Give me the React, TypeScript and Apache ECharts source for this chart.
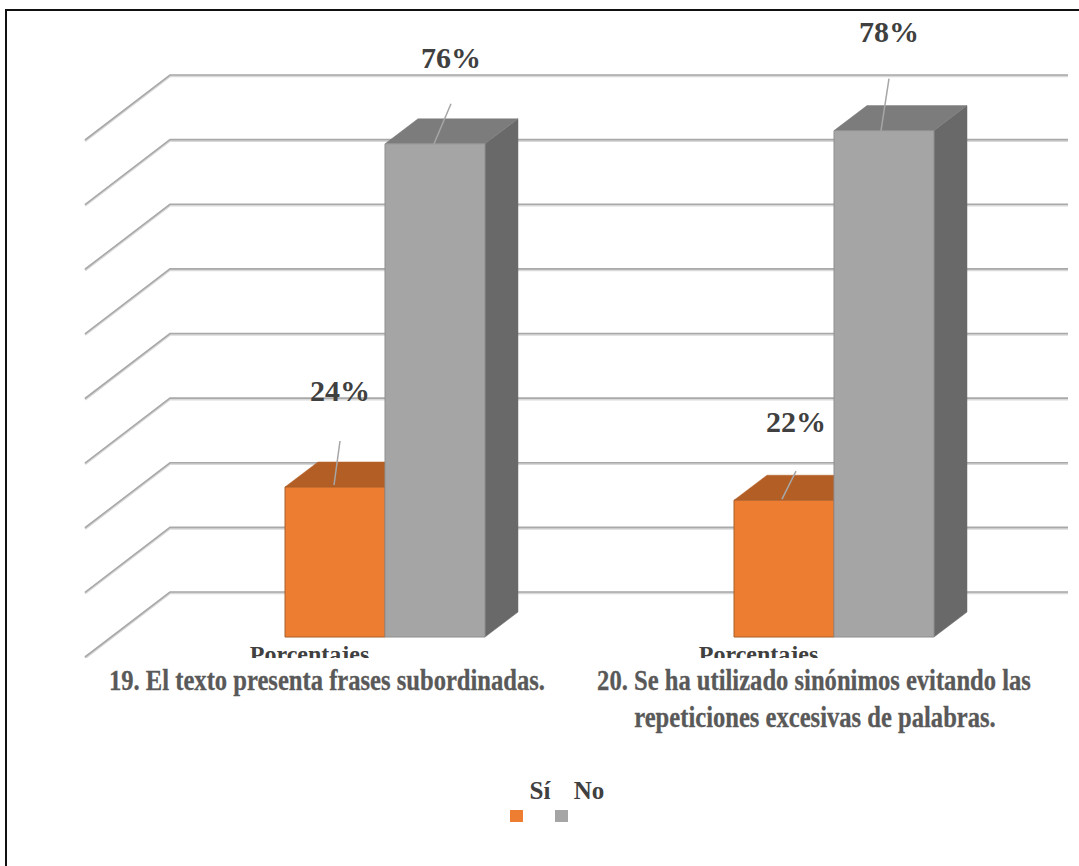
import React, { useEffect, useRef } from "react";
import * as echarts from "echarts";

const categories = ["Porcentajes", "Porcentajes"];
const siValues = [24, 22];
const noValues = [76, 78];
const siLabels = ["24%", "22%"];
const noLabels = ["76%", "78%"];
const gridValues = [0, 10, 20, 30, 40, 50, 60, 70, 80];
const questionOne = ["19. El texto presenta frases subordinadas."];
const questionTwo = ["20. Se ha utilizado sinónimos evitando las", "repeticiones excesivas de palabras."];
const legendNames = ["Sí", "No"];

const SERIF = '"Liberation Serif", "Times New Roman", serif';
const TEXT = "#404040";
const BASE_VALUE = 1.27;
const DX = 33;
const DY = 25;
const BAR_W = 100;
const BAND_SHIFT = 75.5;

const siLabelOffsets = [[5, -97], [12, -79]];
const siLeaderOffsets = [[-1, -2, 5, -46], [-2, -1, 12, -29]];
const noLabelOffsets = [[16, -86], [5, -99]];
const noLeaderOffsets = [[-1, 0, 16, -40], [-3, 0, 5, -52]];

function barRenderer(
  side: number,
  face: string,
  top: string,
  right: string,
  edge: string,
  labels: string[],
  labelOffsets: number[][],
  leaderOffsets: number[][]
) {
  return (params: any, api: any) => {
    const i = api.value(0);
    const p = api.coord([i, api.value(1)]);
    const b = api.coord([i, BASE_VALUE]);
    const center = p[0] + BAND_SHIFT;
    const x0 = side < 0 ? center - BAR_W : center;
    const x1 = x0 + BAR_W;
    const yT = p[1];
    const yB = b[1];
    const mid = (x0 + x1) / 2;
    const lab = labelOffsets[i];
    const lead = leaderOffsets[i];
    return {
      type: "group",
      children: [
        {
          type: "polygon",
          shape: { points: [[x1, yT], [x1 + DX, yT - DY], [x1 + DX, yB - DY], [x1, yB]] },
          style: { fill: right, stroke: right, lineWidth: 0.5 },
        },
        {
          type: "polygon",
          shape: { points: [[x0, yT], [x0 + DX, yT - DY], [x1 + DX, yT - DY], [x1, yT]] },
          style: { fill: top, stroke: top, lineWidth: 0.5 },
        },
        {
          type: "rect",
          shape: { x: x0, y: yT, width: BAR_W, height: yB - yT },
          style: { fill: face, stroke: edge, lineWidth: 1 },
        },
        {
          type: "line",
          shape: { x1: mid + lead[0], y1: yT + lead[1], x2: mid + lead[2], y2: yT + lead[3] },
          style: { stroke: "#a6a6a6", lineWidth: 1.5 },
        },
        {
          type: "text",
          x: mid + lab[0],
          y: yT + lab[1],
          style: {
            text: labels[i],
            fill: TEXT,
            font: `bold 30px ${SERIF}`,
            textAlign: "center",
            textVerticalAlign: "middle",
          },
        },
      ],
    };
  };
}

function wallRenderer(params: any, api: any) {
  const p = api.coord([0, api.value(0)]);
  const y = p[1];
  const xFront = 85;
  const xBack = 170;
  const xEnd = 1068;
  return {
    type: "group",
    children: [
      {
        type: "polyline",
        shape: { points: [[xFront, y + 1], [xBack, y - 64], [xEnd, y - 64]] },
        style: { fill: "none", stroke: "#d9d9d9", lineWidth: 2.5 },
      },
      {
        type: "polyline",
        shape: { points: [[xFront, y], [xBack, y - 65], [xEnd, y - 65]] },
        style: { fill: "none", stroke: "#a9a9a9", lineWidth: 1.6 },
      },
    ],
  };
}

function titleText(line: string, cx: number, y: number) {
  return {
    type: "text",
    x: cx,
    y,
    scaleX: 0.82,
    z: 20,
    style: {
      text: line,
      fill: "#595959",
      stroke: "#595959",
      lineWidth: 0.3,
      font: `bold 30px ${SERIF}`,
      textAlign: "center",
      textVerticalAlign: "middle",
    },
  };
}

export default function App() {
  const ref = useRef<HTMLDivElement>(null);
  useEffect(() => {
    if (!ref.current) return;
    const chart = echarts.init(ref.current, undefined, { renderer: "svg" });
    chart.setOption({
      animation: false,
      backgroundColor: "#ffffff",
      grid: [
        { left: 85, width: 898, top: 140, height: 517 },
        { left: 85, width: 898, top: 117.4, height: 528 },
      ],
      xAxis: [
        {
          gridIndex: 0,
          type: "category",
          data: categories,
          position: "bottom",
          offset: -20,
          axisLine: { show: false },
          axisTick: { show: false },
          axisLabel: {
            interval: 0,
            margin: 5,
            color: TEXT,
            fontFamily: SERIF,
            fontWeight: "bold",
            fontSize: 24,
            lineHeight: 24,
            verticalAlign: "top",
          },
        },
        { gridIndex: 1, type: "category", data: categories, show: false },
      ],
      yAxis: [
        { gridIndex: 0, type: "value", min: 0, max: 80, interval: 10, show: false, splitLine: { show: false } },
        { gridIndex: 1, type: "value", min: 0, max: 80, interval: 10, show: false, splitLine: { show: false } },
      ],
      series: [
        {
          name: "Pared",
          type: "custom",
          xAxisIndex: 0,
          yAxisIndex: 0,
          clip: false,
          silent: true,
          data: gridValues.map((v) => [v]),
          encode: { y: 0 },
          renderItem: wallRenderer,
        },
        {
          name: legendNames[0],
          type: "custom",
          xAxisIndex: 1,
          yAxisIndex: 1,
          clip: false,
          data: siValues.map((v, i) => [i, v]),
          encode: { x: 0, y: 1 },
          renderItem: barRenderer(-1, "#ED7D31", "#B35E25", "#B35E25", "#a8602c", siLabels, siLabelOffsets, siLeaderOffsets),
        },
        {
          name: legendNames[1],
          type: "custom",
          xAxisIndex: 1,
          yAxisIndex: 1,
          clip: false,
          data: noValues.map((v, i) => [i, v]),
          encode: { x: 0, y: 1 },
          renderItem: barRenderer(1, "#A5A5A5", "#7C7C7C", "#696969", "#8f8f8f", noLabels, noLabelOffsets, noLeaderOffsets),
        },
      ],
      graphic: [
        {
          type: "rect",
          z: 15,
          shape: { x: 80, y: 658, width: 990, height: 90 },
          style: { fill: "#ffffff" },
        },
        {
          type: "rect",
          z: 30,
          shape: { x: 6, y: 10, width: 1200, height: 1000 },
          style: { fill: "none", stroke: "#111111", lineWidth: 2 },
        },
        titleText(questionOne[0], 327, 680),
        titleText(questionTwo[0], 814, 680),
        titleText(questionTwo[1], 815, 717),
        {
          type: "text",
          x: 540,
          y: 790,
          z: 20,
          style: { text: legendNames[0], fill: TEXT, font: `bold 25px ${SERIF}`, textAlign: "center", textVerticalAlign: "middle" },
        },
        {
          type: "text",
          x: 589,
          y: 790,
          z: 20,
          style: { text: legendNames[1], fill: TEXT, font: `bold 25px ${SERIF}`, textAlign: "center", textVerticalAlign: "middle" },
        },
        { type: "rect", z: 20, shape: { x: 510, y: 810, width: 13, height: 12 }, style: { fill: "#ED7D31" } },
        { type: "rect", z: 20, shape: { x: 555, y: 810, width: 13, height: 12 }, style: { fill: "#A5A5A5" } },
      ],
    });
    return () => chart.dispose();
  }, []);
  return (
    <div
      ref={ref}
      style={{ position: "fixed", left: 0, top: 0, width: 1079, height: 866 }}
    />
  );
}
